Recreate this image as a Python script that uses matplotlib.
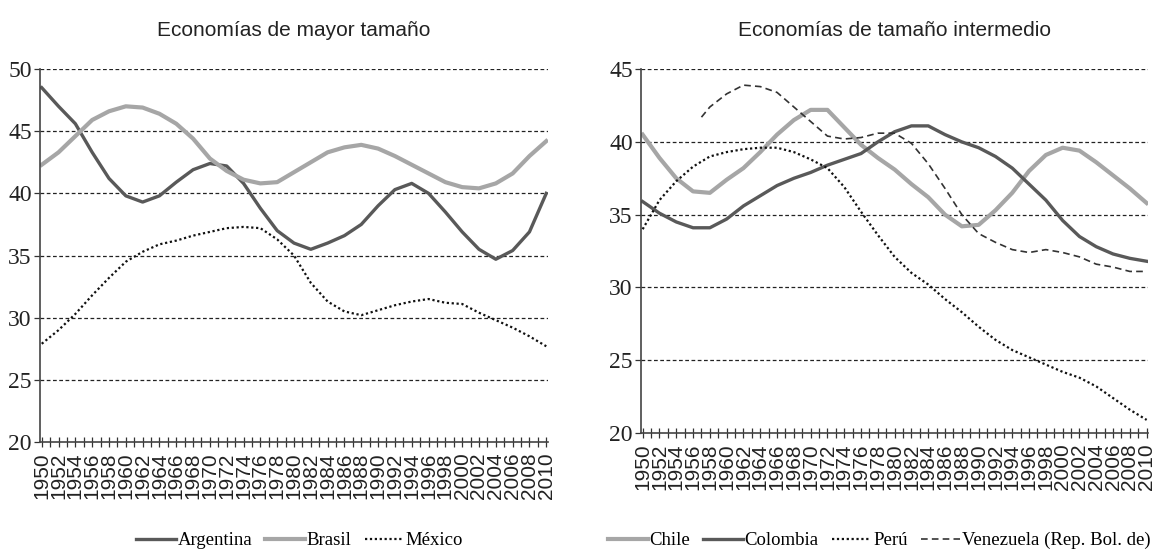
import matplotlib
matplotlib.use("Agg")
import matplotlib.pyplot as plt
import numpy as np
from matplotlib import font_manager

names = {f.name for f in font_manager.fontManager.ttflist}
SANS = "Liberation Sans Narrow" if "Liberation Sans Narrow" in names else "Liberation Sans"
SERIF = "Liberation Serif"
plt.rcParams["font.family"] = [SERIF, "DejaVu Serif"]

years = list(range(1950, 2011, 2))
all_years = list(range(1950, 2011))

# Left panel: Economías de mayor tamaño
argentina = [48.5, 47.0, 45.6, 43.3, 41.2, 39.8, 39.3, 39.8, 40.9, 41.9, 42.4, 42.2, 40.8, 38.8,
             37.0, 36.0, 35.5, 36.0, 36.6, 37.5, 39.0, 40.3, 40.8, 40.0, 38.5, 36.9, 35.5, 34.7,
             35.4, 36.9, 40.0]
brasil = [42.3, 43.3, 44.6, 45.9, 46.6, 47.0, 46.9, 46.4, 45.6, 44.4, 42.8, 41.8, 41.1, 40.8,
          40.9, 41.7, 42.5, 43.3, 43.7, 43.9, 43.6, 43.0, 42.3, 41.6, 40.9, 40.5, 40.4, 40.8,
          41.6, 43.0, 44.2]
mexico = [27.9, 29.0, 30.3, 31.8, 33.2, 34.5, 35.3, 35.9, 36.2, 36.6, 36.9, 37.2, 37.3, 37.2,
          36.3, 35.0, 32.8, 31.3, 30.5, 30.2, 30.6, 31.0, 31.3, 31.5, 31.2, 31.1, 30.4, 29.8,
          29.2, 28.5, 27.7]

# Right panel: Economías de tamaño intermedio
chile = [40.5, 38.9, 37.5, 36.6, 36.5, 37.4, 38.2, 39.3, 40.5, 41.5, 42.2, 42.2, 41.0, 39.8,
         38.9, 38.1, 37.1, 36.2, 35.0, 34.2, 34.3, 35.3, 36.5, 38.0, 39.1, 39.6, 39.4, 38.6,
         37.7, 36.8, 35.8]
colombia = [35.9, 35.1, 34.5, 34.1, 34.1, 34.7, 35.6, 36.3, 37.0, 37.5, 37.9, 38.4, 38.8, 39.2,
            40.0, 40.7, 41.1, 41.1, 40.5, 40.0, 39.6, 39.0, 38.2, 37.1, 36.0, 34.6, 33.5, 32.8,
            32.3, 32.0, 31.8]
peru = [34.0, 36.0, 37.3, 38.3, 39.0, 39.3, 39.5, 39.6, 39.6, 39.3, 38.8, 38.2, 36.9, 35.2,
        33.6, 32.1, 31.0, 30.2, 29.2, 28.3, 27.3, 26.4, 25.7, 25.2, 24.7, 24.2, 23.8, 23.2,
        22.4, 21.6, 20.9]
venezuela_years = [1957] + list(range(1958, 2011, 2))
venezuela = [41.7, 42.4, 43.3, 43.9, 43.8, 43.4, 42.4, 41.4, 40.4, 40.2, 40.3, 40.6, 40.6, 39.9,
             38.5, 36.8, 35.0, 33.7, 33.1, 32.6, 32.4, 32.6, 32.4, 32.1, 31.6, 31.4, 31.1, 31.1]

DARK = "#595959"
LIGHT = "#a6a6a6"

fig = plt.figure(figsize=(11.57, 5.53), dpi=100)
ax1 = fig.add_axes([0.0346, 0.2007, 0.4390, 0.6745])
ax2 = fig.add_axes([0.554, 0.217, 0.4385, 0.658])


def style(ax, ylim, yticks, title):
    ax.set_xlim(1949.8, 2010.2)
    ax.set_ylim(*ylim)
    ax.set_yticks(yticks, labels=[str(v) for v in yticks])
    ax.set_xticks(all_years,
                  labels=[str(y) if (y - 1950) % 2 == 0 else "" for y in all_years])
    ax.tick_params(axis="x", direction="inout", length=7, width=0.9, color="#333333", pad=4,
                   labelfontfamily=SANS, labelsize=15, labelrotation=90, labelcolor="#222222")
    ax.tick_params(axis="y", direction="out", length=4, width=0.9, color="#333333", pad=2,
                   labelfontfamily=SERIF, labelsize=17, labelcolor="#222222")
    for s in ["top", "right"]:
        ax.spines[s].set_visible(False)
    for s in ["left", "bottom"]:
        ax.spines[s].set_color("#444444")
        ax.spines[s].set_linewidth(1.2)
    for yv in yticks[1:]:
        ax.axhline(yv, color="#222222", lw=0.9, ls=(0, (3, 2)), zorder=0)
    ax.set_title(title, fontfamily=SANS, fontsize=15, color="#222222", pad=24)


style(ax1, (20, 50), [20, 25, 30, 35, 40, 45, 50], "Economías de mayor tamaño")
style(ax2, (20, 45), [20, 25, 30, 35, 40, 45], "Economías de tamaño intermedio")

ax1.plot(years, argentina, color=DARK, lw=2.4, label="Argentina")
ax1.plot(years, brasil, color=LIGHT, lw=3.0, label="Brasil")
ax1.plot(years, mexico, color="#111111", lw=1.6, ls=(0, (1, 1.2)), label="México")

ax2.plot(years, chile, color=LIGHT, lw=3.0, label="Chile")
ax2.plot(years, colombia, color=DARK, lw=2.4, label="Colombia")
ax2.plot(years, peru, color="#111111", lw=1.6, ls=(0, (1, 1.2)), label="Perú")
ax2.plot(venezuela_years, venezuela, color="#333333", lw=1.2, ls=(0, (4, 2.5)),
         label="Venezuela (Rep. Bol. de)")

leg_kw = dict(frameon=False, handlelength=2.1, handletextpad=0.1, columnspacing=0.7,
              prop={"family": SERIF, "size": 13.5}, loc="center")
h1, l1 = ax1.get_legend_handles_labels()
h2, l2 = ax2.get_legend_handles_labels()
fig.legend(h1, l1, bbox_to_anchor=(0.259, 0.022), ncol=3, **leg_kw)
fig.legend(h2, l2, bbox_to_anchor=(0.760, 0.022), ncol=4, **leg_kw)

fig.savefig("out.png", dpi=100)
